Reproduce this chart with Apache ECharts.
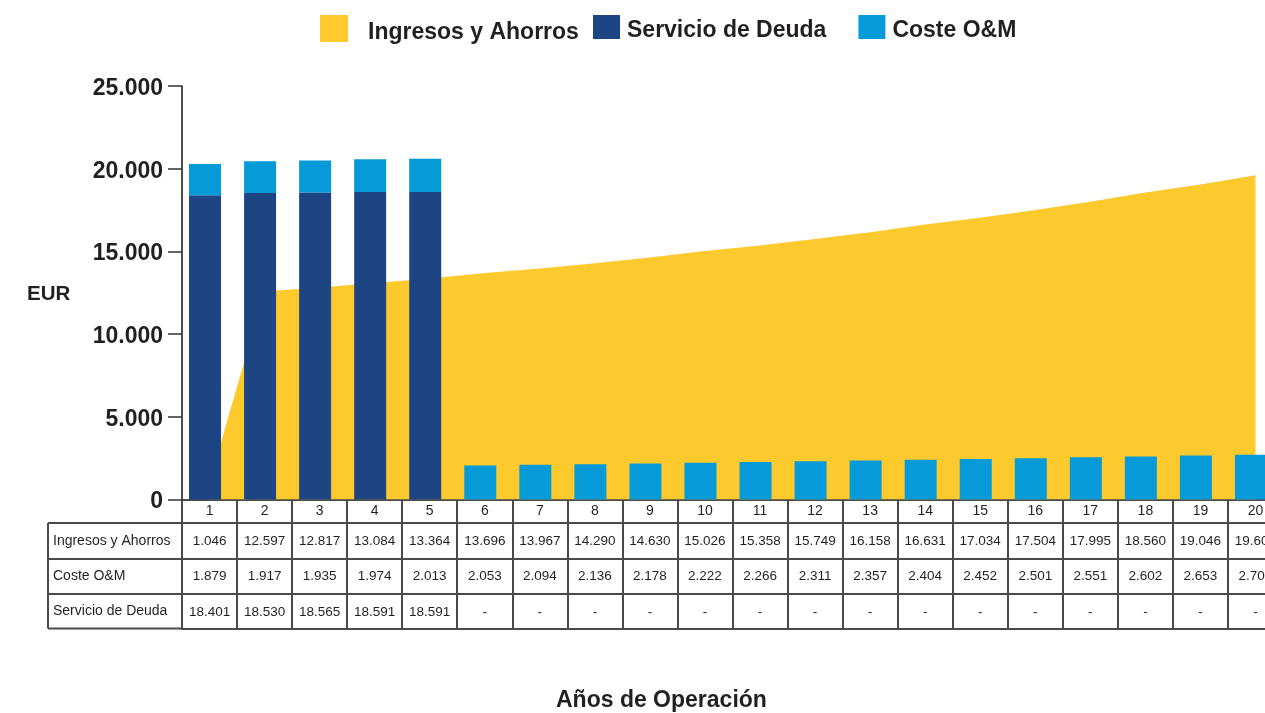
<!DOCTYPE html>
<html>
<head>
<meta charset="utf-8">
<script src="https://cdn.jsdelivr.net/npm/echarts@6/dist/echarts.min.js"></script>
<style>
html,body{margin:0;padding:0;background:#fff;}
#chart{width:1265px;height:713px;}
</style>
</head>
<body>
<div id="chart"></div>
<script>
const categories = ['1','2','3','4','5','6','7','8','9','10','11','12','13','14','15','16','17','18','19','20'];
const ingresos = [1046,12597,12817,13084,13364,13696,13967,14290,14630,15026,15358,15749,16158,16631,17034,17504,17995,18560,19046,19609];
const costeOM = [1879,1917,1935,1974,2013,2053,2094,2136,2178,2222,2266,2311,2357,2404,2452,2501,2551,2602,2653,2706];
const deuda = [18401,18530,18565,18591,18591,null,null,null,null,null,null,null,null,null,null,null,null,null,null,null];
const rowLabels = ['Ingresos y Ahorros','Coste O&M','Servicio de Deuda'];
const seriesNames = ['Ingresos y Ahorros','Servicio de Deuda','Coste O&M'];
const yAxisName = 'EUR';
const xAxisTitle = 'Años de Operación';

const YELLOW = '#FDCA2E', NAVY = '#1D4584', SKY = '#069AD8';
const TXT = '#231F20', LINE = '#4a4a4a';
const FONT = '"Liberation Sans", Arial, sans-serif';

function fmt(v){ return v == null ? '-' : String(v).replace(/\B(?=(\d{3})+(?!\d))/g, '.'); }

const GRID_TOP = 86, GRID_BOTTOM = 213.5, GRID_LEFT = 182, GRID_WIDTH = 1101;
const AXIS_Y = 713 - GRID_BOTTOM;
const GRID_HEIGHT = AXIS_Y - GRID_TOP;

function rowAxis(data, offset, tickLen, margin, showTick){
  return {
    type:'category', gridIndex:0, position:'bottom', offset:offset, data:data,
    boundaryGap:true,
    axisLine:{show:true, onZero:false, lineStyle:{color:LINE, width:2}},
    axisTick:{show:showTick, interval:0, alignWithLabel:false, length:tickLen, lineStyle:{color:LINE, width:2}},
    axisLabel:{show:true, interval:0, margin:margin, color:TXT, fontSize:13.5, fontFamily:FONT, hideOverlap:false},
    splitLine:{show:false}
  };
}

const mainX = rowAxis(categories, 0, 23.5, 5, true);
mainX.axisLine.lineStyle = {color:'#111', width:1.5};
mainX.axisLabel.fontSize = 14;

const legendRich = {t:{fontSize:23, fontWeight:'bold', color:TXT, fontFamily:FONT, padding:[8,0,0,0]}};

const option = {
  animation:false,
  backgroundColor:'#fff',
  textStyle:{fontFamily:FONT},
  legend:[
    {data:[seriesNames[0]], left:320, top:15, padding:0, icon:'rect', itemWidth:28, itemHeight:27,
     formatter:function(n){return '{t|' + n + '}';},
     textStyle:{fontSize:23, fontWeight:'bold', color:TXT, fontFamily:FONT, padding:[0,0,0,15], rich:legendRich}},
    {data:[seriesNames[1], seriesNames[2]], left:593, top:15, padding:0, icon:'rect', itemWidth:27, itemHeight:24, itemGap:32,
     formatter:function(n){return '{t|' + n + '}';},
     textStyle:{fontSize:23, fontWeight:'bold', color:TXT, fontFamily:FONT, padding:[0,0,0,2], rich:legendRich}}
  ],
  grid:[
    {left:GRID_LEFT, width:GRID_WIDTH, top:GRID_TOP, height:GRID_HEIGHT, containLabel:false, outerBoundsMode:'none'},
    {left:GRID_LEFT-4.5, width:GRID_WIDTH, top:GRID_TOP, height:GRID_HEIGHT, containLabel:false, outerBoundsMode:'none'}
  ],
  xAxis:[
    mainX,
    rowAxis(ingresos.map(fmt), 23.5, 36, 11, true),
    rowAxis(costeOM.map(fmt), 59.5, 35, 10.5, true),
    rowAxis(deuda.map(fmt), 94.5, 34.5, 11, true),
    rowAxis(categories.map(function(){return '';}), 129, 0, 0, false),
    {type:'category', gridIndex:1, data:categories, show:false, boundaryGap:true}
  ],
  yAxis:[
    {type:'value', gridIndex:0, min:0, max:25000, interval:5000,
     axisLine:{show:true, lineStyle:{color:'#111', width:1.5}},
     axisTick:{show:true, length:14, lineStyle:{color:'#333', width:1.5}},
     axisLabel:{margin:19, color:TXT, fontSize:23, fontWeight:'bold', fontFamily:FONT,
       formatter:function(v){return '{v|' + fmt(v) + '}';},
       rich:{v:{fontSize:23, fontWeight:'bold', color:TXT, fontFamily:FONT, padding:[5,0,0,0]}}},
     splitLine:{show:false}},
    {type:'value', gridIndex:1, min:0, max:25000, interval:5000, show:false, splitLine:{show:false}}
  ],
  series:[
    {name:seriesNames[0], type:'line', xAxisIndex:0, yAxisIndex:0, data:ingresos,
     symbol:'none', lineStyle:{width:0, color:YELLOW}, itemStyle:{color:YELLOW},
     areaStyle:{color:YELLOW, opacity:1}, z:1},
    {name:seriesNames[1], type:'bar', xAxisIndex:5, yAxisIndex:1, stack:'total', data:deuda,
     barWidth:32, itemStyle:{color:NAVY}, z:3},
    {name:seriesNames[2], type:'bar', xAxisIndex:5, yAxisIndex:1, stack:'total', data:costeOM,
     barWidth:32, itemStyle:{color:SKY}, z:3}
  ],
  graphic:[
    {type:'text', left:27, top:284, style:{text:yAxisName, fontSize:20.5, fontWeight:'bold', fill:TXT, fontFamily:FONT}},
    {type:'text', left:556, top:689, style:{text:xAxisTitle, fontSize:23, fontWeight:'bold', fill:TXT, fontFamily:FONT}},
    {type:'line', shape:{x1:48, y1:AXIS_Y+23.5, x2:GRID_LEFT, y2:AXIS_Y+23.5}, style:{stroke:LINE, lineWidth:2}},
    {type:'line', shape:{x1:48, y1:AXIS_Y+59.5, x2:GRID_LEFT, y2:AXIS_Y+59.5}, style:{stroke:LINE, lineWidth:2}},
    {type:'line', shape:{x1:48, y1:AXIS_Y+94.5, x2:GRID_LEFT, y2:AXIS_Y+94.5}, style:{stroke:LINE, lineWidth:2}},
    {type:'line', shape:{x1:48, y1:AXIS_Y+129, x2:GRID_LEFT, y2:AXIS_Y+129}, style:{stroke:LINE, lineWidth:2}},
    {type:'line', shape:{x1:48, y1:AXIS_Y+23.5, x2:48, y2:AXIS_Y+129}, style:{stroke:LINE, lineWidth:2}},
    {type:'line', shape:{x1:GRID_LEFT, y1:AXIS_Y, x2:GRID_LEFT, y2:AXIS_Y+129}, style:{stroke:LINE, lineWidth:2}},
    {type:'text', left:53, top:AXIS_Y+42.2-8, style:{text:rowLabels[0], fontSize:14, fill:TXT, fontFamily:FONT}},
    {type:'text', left:53, top:AXIS_Y+77.2-8, style:{text:rowLabels[1], fontSize:14, fill:TXT, fontFamily:FONT}},
    {type:'text', left:53, top:AXIS_Y+112.8-8, style:{text:rowLabels[2], fontSize:14, fill:TXT, fontFamily:FONT}}
  ]
};

const chart = echarts.init(document.getElementById('chart'), null, {renderer:'canvas'});
chart.setOption(option);
</script>
</body>
</html>
